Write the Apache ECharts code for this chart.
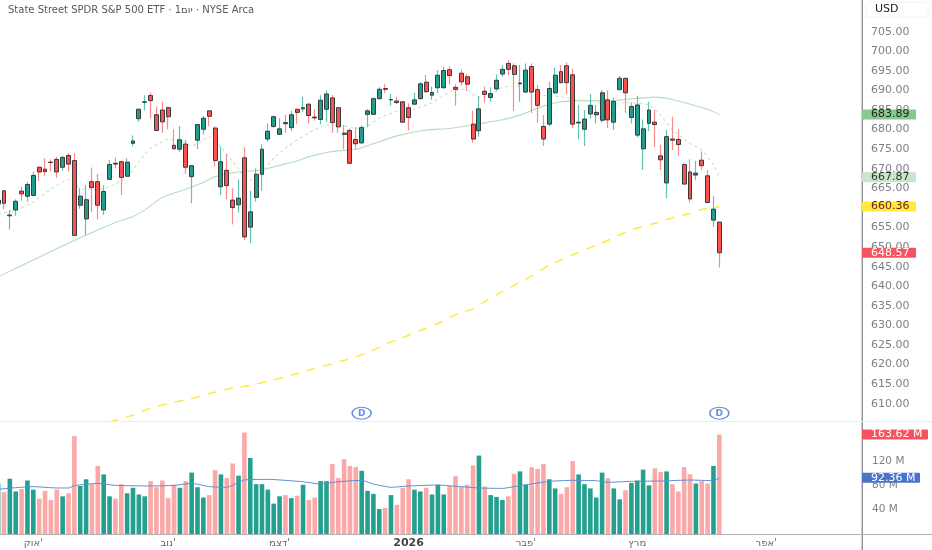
<!DOCTYPE html>
<html><head><meta charset="utf-8">
<style>html,body{margin:0;padding:0;background:#fff}#c{width:932px;height:550px}</style>
<script src="https://cdn.jsdelivr.net/npm/echarts@6/dist/echarts.min.js"></script>
</head><body><div id="c"></div>
<script>
const titleText = "State Street SPDR S&P 500 ETF · 1יום · NYSE Arca";
const currency = "USD";
const slotCount = 148;
const monthIndex = [6, 29, 48, 70, 90, 109, 131];
const monthNames = ["אוק'", "נוב'", "דצמ'", "2026", "פבר'", "מרץ", "אפר'"];
const priceTicks = [610,615,620,625,630,635,640,645,650,655,660,665,670,675,680,685,690,695,700,705];
const volumeTicks = [40, 80, 120];
const dividendIndex = [62, 123];
const dividendPrice = 607.6;

const opens = [661,664.4,658.0,659.5,664.3,663.0,663.2,670.4,669.9,671.7,672.4,670.4,673.4,672.1,660.7,657.2,666.7,666.7,659.5,667.3,671.4,671.8,668.1,676.5,682.8,687.0,688.7,683.8,685.0,685.6,676.0,675.0,676.3,668.0,677.3,680.1,684.8,680.4,665.4,669.6,662.0,660.8,672.8,655.1,662.7,668.6,677.6,680.8,678.8,681.8,680.5,685.2,685.3,686.5,683.2,682.6,685.2,688.1,685.6,679.1,679.8,677.5,676.6,683.9,683.9,687.9,690.5,687.6,687.3,687.1,685.6,686.5,687.9,692.1,688.8,690.7,690.7,695.3,690.8,694.4,693.5,681.4,679.7,689.8,688.2,690.4,694.2,696.9,696.3,691.7,689.6,696.1,690.2,680.8,681.4,689.4,694.8,696.3,694.0,681.7,680.1,684.0,683.8,682.4,687.6,681.9,690.2,693.1,683.1,678.6,675.1,681.6,681.9,673.3,666.4,677.6,677.5,671.1,669.2,668.4,672.2,668.2,656.9,656.4];
const closes = [662,661.2,658.2,661.7,663.6,666.0,668.3,669.2,669.3,671.6,669.2,672.9,671.2,653.0,663.0,662.1,665.2,660.7,664.2,671.1,671.2,667.8,671.7,677.1,685.2,687.1,687.4,679.8,682.0,683.3,675.1,677.4,670.4,670.8,681.3,682.9,683.4,672.1,671.8,665.7,660.1,662.5,652.6,659.0,668.6,675.0,679.6,683.3,680.2,681.5,683.8,684.4,685.6,683.6,683.0,687.5,689.1,681.8,680.7,678.8,671.4,676.4,680.5,684.8,687.9,690.3,690.3,687.7,686.9,681.9,683.1,687.6,691.7,689.7,689.5,693.9,695.1,693.8,690.3,692.2,691.6,677.6,685.3,689.0,689.2,692.6,695.4,695.4,694.1,691.9,695.2,689.6,686.2,677.6,690.5,693.9,692.0,692.0,681.4,681.9,682.7,686.2,684.4,689.4,682.5,687.2,693.1,689.4,685.9,686.3,680.2,685.0,681.3,672.3,678.2,677.3,676.2,666.1,662.3,668.9,670.8,661.4,659.7,648.57];
const lows = [660,659.7,654.5,658.0,661.9,661.6,663.1,666.9,668.2,669.3,667.7,669.5,669.3,653.0,659.8,653.1,659.0,657.1,658.2,667.2,670.1,663.3,668.0,675.7,682.0,684.9,682.9,679.7,679.2,680.1,675.1,674.3,668.7,661.2,675.0,678.7,680.9,670.6,663.3,662.2,655.8,658.8,651.8,651.0,661.6,664.4,676.9,680.5,678.6,679.2,679.7,681.4,684.5,681.6,682.3,681.3,682.0,679.2,679.2,675.0,671.3,675.0,676.5,680.6,683.8,687.7,689.3,686.1,686.5,681.8,679.8,686.4,687.7,689.4,687.6,689.3,690.5,691.5,686.1,691.2,689.9,676.7,678.2,686.9,687.1,689.9,693.5,693.9,684.8,687.1,689.4,684.2,681.8,675.8,680.8,689.1,691.8,689.1,680.4,677.5,675.8,682.8,681.6,681.8,680.4,679.9,690.1,684.3,681.6,678.0,669.7,679.6,675.6,669.7,662.5,674.8,673.3,666.0,661.4,667.1,669.7,661.4,655.2,644.8];
const highs = [663,664.5,659.5,662.2,665.4,666.7,669.3,670.5,672.7,672.4,673.1,673.3,674.0,674.0,665.0,665.8,670.3,668.7,665.8,672.3,672.9,672.1,672.7,678.5,685.4,688.8,689.5,685.9,687.1,685.9,680.1,680.9,677.4,670.9,681.4,683.5,684.8,680.8,675.7,673.7,665.0,667.3,675.5,664.4,670.1,676.2,681.6,683.6,682.9,683.7,684.8,685.3,688.4,686.7,685.3,688.8,690.0,688.8,685.7,681.2,680.3,680.6,681.1,685.2,688.2,690.8,691.6,689.1,688.4,687.3,686.7,689.4,692.1,694.0,691.0,695.2,696.1,696.1,691.6,695.4,694.2,684.8,688.6,691.0,690.8,694.1,696.5,697.7,696.9,696.5,696.9,696.9,691.4,683.7,692.2,695.9,696.5,697.1,695.4,686.3,685.0,689.1,686.3,690.1,690.0,688.2,693.7,693.2,686.9,688.6,682.6,687.1,685.0,676.1,679.9,683.3,680.1,671.4,672.4,672.0,674.4,669.7,663.0,656.4];
const volumes = [83,69,91,70,74,88,73,58,71,56,73,62,67,161,79,90,82,112,98,62,58,82,67,76,65,62,87,77,88,59,81,76,87,101,77,60,64,105,98,92,116,96,167,125,82,82,73,50,62,64,59,63,81,56,60,87,87,115,92,123,112,110,104,71,66,41,43,64,48,76,90,73,70,76,65,81,65,79,95,78,81,113,129,78,64,61,56,62,99,103,81,110,107,115,90,75,66,77,120,98,82,75,60,101,92,75,57,72,84,88,106,80,108,102,103,82,70,110,98,83,87,83,112,163.62];
const ma20 = [[0,658.5],[3,659.3],[6,661.6],[9,664.8],[12,667.3],[14,665],[17,664.6],[20,666.1],[22,667.8],[24,671.8],[26,675.2],[29,677.5],[31,677.4],[33,675.8],[35,677.4],[36,678.2],[38,675.5],[40,671.8],[42,668],[43,667.1],[45,669.3],[47,672.7],[49,675.2],[51,677.4],[54,680],[56,681.2],[59,680.9],[61,680.3],[63,680.9],[65,682.9],[68,684.7],[71,685.2],[74,686.9],[77,689.7],[79,690.3],[80,690.1],[82,688.2],[84,688.8],[86,690.8],[88,691.1],[91,691.1],[93,688.8],[96,688.4],[100,687.4],[104,686.7],[108,686.9],[111,686.3],[113,683.7],[115,679.9],[118,676.5],[120,674.8],[122,671],[123,667.87]];
const ma50 = [[0,642.4],[6,646.7],[12,651],[17,654.4],[20,656.3],[23,657.8],[25,659.5],[28,662.7],[32,664.8],[35,666.5],[37,668],[41,669.2],[45,669.7],[48,670.9],[51,672],[53,673.1],[57,674.4],[61,675],[65,676.9],[68,678.4],[73,679.9],[77,680.3],[81,681.2],[84,682],[86,682.5],[89,683.7],[93,686],[96,687.1],[100,687.4],[105,687.4],[108,687.9],[112,688.3],[115,687.7],[118,686.5],[121,685.2],[123,683.89]];
const ma200 = [[19,605.4],[20,605.8],[23,607.1],[26,608.9],[29,610.1],[33,611.3],[36,612.6],[40,614],[43,614.7],[46,615.7],[50,617.3],[53,618.6],[56,619.8],[60,621.5],[63,623],[66,625.2],[69,626.9],[72,628.7],[75,630.5],[78,632.7],[81,634.3],[83,636.1],[86,638.7],[89,641],[91,642.7],[94,645.4],[97,647.4],[100,649.3],[103,651.1],[106,653.1],[108,654.5],[112,656.1],[115,657.5],[118,658.6],[120,659.6],[123,660.36]];
const volumeMa = [[0,73.5],[3,76.2],[6,77.9],[10,75.7],[12,75.7],[13,79.5],[17,83.3],[20,80],[26,78.9],[30,80],[33,83.3],[36,77.9],[39,76.8],[42,88.8],[46,89.9],[52,86],[55,82.2],[58,86],[62,88.3],[64,82.2],[67,76.8],[70,78.9],[75,80.6],[79,77.9],[82,75.7],[86,75],[89,79.5],[94,86.6],[98,88.3],[102,87.7],[104,85],[108,86.6],[113,87.2],[118,88.8],[122,87.7],[123,92.36]];
const priceTags = [
  {value:683.89,text:'683.89',bg:'#85c98f',fg:'#222'},
  {value:667.87,text:'667.87',bg:'#c8e6c9',fg:'#333'},
  {value:660.36,text:'660.36',bg:'#ffeb3b',fg:'#6b1a2a'},
  {value:648.57,text:'648.57',bg:'#f7525f',fg:'#fff'}
];
const volumeTags = [
  {value:163.62,text:'163.62 M',bg:'#f7525f',fg:'#fff'},
  {value:92.36,text:'92.36 M',bg:'#4a73c9',fg:'#fff'}
];

const UP='#1f9e8e', DOWN='#fb5050', UPW='#62c3b4', DOWNW='#f98a8a', EDGE='#3a3a3a';
const VUP='#23a08f', VDOWN='#fba8a8';
const FONT='"DejaVu Sans"';
const categories = Array.from({length:slotCount},(_, i)=>{const k=monthIndex.indexOf(i);return k>=0?monthNames[k]:String(i);});
const wickData = opens.map((o,i)=>[o,closes[i],lows[i],highs[i]]);
const bodyData = opens.map((o,i)=>[o,closes[i],Math.min(o,closes[i]),Math.max(o,closes[i])]);
const volData = volumes.map((v,i)=>({value:v,itemStyle:{color:closes[i]>=opens[i]?VUP:VDOWN}}));

const hline=(x1,y1,x2,y2,c,w)=>({type:'line',silent:true,z:30,shape:{x1,y1,x2,y2},style:{stroke:c,lineWidth:w}});
const chrome=[
  hline(862.3,0,862.3,550,'#8d8f94',1.4),
  hline(0,421.5,932,421.5,'#ececec',1),
  hline(0,534.5,932,534.5,'#aeb0b4',1),
  {type:'rect',silent:true,z:31,shape:{x:866,y:2,width:62,height:15,r:3},style:{fill:'#fff',stroke:'#f3f3f3',lineWidth:1}},
  {type:'text',silent:true,z:32,style:{x:875,y:4,text:currency,font:'11px '+FONT,fill:'#222'}}
];
const lineOpts={smooth:0.15,symbol:'none',z:2};
const chart=echarts.init(document.getElementById('c'),null,{renderer:'canvas'});
chart.setOption({
  animation:false,backgroundColor:'#ffffff',
  title:{text:titleText,left:3,top:0,textStyle:{fontFamily:FONT,fontSize:10,fontWeight:'normal',color:'#55585f'}},
  graphic:chrome,
  grid:[{left:-4.8,top:0,width:867.8,height:421,outerBoundsMode:'none'},{left:-4.8,top:421,width:867.8,height:113,outerBoundsMode:'none'}],
  xAxis:[
    {type:'category',gridIndex:0,data:categories,show:false},
    {type:'category',gridIndex:1,data:categories,axisLine:{show:false},axisTick:{show:false},splitLine:{show:false},
      axisLabel:{margin:4,fontFamily:FONT,fontSize:10,color:'#666',
        interval:(i)=>monthIndex.includes(i),
        formatter:(v)=>v==='2026'?'{b|2026}':v,
        rich:{b:{fontFamily:FONT,fontSize:11,fontWeight:'bold',color:'#444'}}}}
  ],
  yAxis:[
    {type:'value',gridIndex:0,position:'right',min:605.6,max:713.1,axisLine:{show:false},axisTick:{show:false},splitLine:{show:false},
      axisLabel:{margin:8,customValues:priceTicks,fontFamily:FONT,fontSize:11,color:'#7d8087',formatter:(v)=>v.toFixed(2)}},
    {type:'value',gridIndex:1,position:'right',min:0,max:185.9,axisLine:{show:false},axisTick:{show:false},splitLine:{show:false},
      axisLabel:{margin:9,customValues:volumeTicks,fontFamily:FONT,fontSize:10.5,color:'#7d8087',formatter:(v)=>v+' M'}}
  ],
  series:[
    {name:'MA 50',type:'line',xAxisIndex:0,yAxisIndex:0,data:ma50,...lineOpts,lineStyle:{color:'#b4deb8',width:1.1}},
    {name:'MA 20',type:'line',xAxisIndex:0,yAxisIndex:0,data:ma20,...lineOpts,lineStyle:{color:'#c3e6c7',width:1.1,type:[3,3]}},
    {name:'MA 200',type:'line',xAxisIndex:0,yAxisIndex:0,data:ma200,...lineOpts,lineStyle:{color:'#ffe93f',width:1.5,type:[9,8]}},
    {name:'Wick',type:'candlestick',xAxisIndex:0,yAxisIndex:0,data:wickData,barWidth:1,z:3,
      itemStyle:{color:UPW,color0:DOWNW,borderColor:UPW,borderColor0:DOWNW,borderWidth:1.2}},
    {name:'Body',type:'candlestick',xAxisIndex:0,yAxisIndex:0,data:bodyData,barWidth:4.4,z:4,
      itemStyle:{color:UP,color0:DOWN,borderColor:EDGE,borderColor0:EDGE,borderWidth:1}},
    {name:'Dividends',type:'scatter',xAxisIndex:0,yAxisIndex:0,data:dividendIndex.map(i=>[i,dividendPrice]),symbol:'circle',symbolSize:[19,12],z:6,
      itemStyle:{color:'#fff',borderColor:'#3f72d8',borderWidth:1.2},
      label:{show:true,position:'inside',formatter:'D',fontFamily:FONT,fontSize:9,fontWeight:'bold',color:'#3f72d8'}},
    {name:'Volume',type:'bar',xAxisIndex:1,yAxisIndex:1,data:volData,barWidth:4.6,z:2},
    {name:'Volume MA',type:'line',xAxisIndex:1,yAxisIndex:1,data:volumeMa,...lineOpts,z:3,lineStyle:{color:'#5b8fd6',width:1}}
  ]
});
// Value tags sit on the axis; their height comes from the library's own scale.
function tagGraphic(t,grid,width){
  const y=chart.convertToPixel({yAxisIndex:grid},t.value);
  return {type:'group',silent:true,z:40,children:[
    {type:'rect',z:40,shape:{x:862,y:y-5,width:width,height:10,r:1},style:{fill:t.bg}},
    {type:'text',z:41,style:{x:871,y:y,text:t.text,font:'11px '+FONT,fill:t.fg,verticalAlign:'middle',align:'left'}}
  ]};
}
chart.setOption({graphic:chrome.concat(priceTags.map(t=>tagGraphic(t,0,54)),tagGraphic(volumeTags[0],1,66),tagGraphic(volumeTags[1],1,58))});
</script></body></html>
